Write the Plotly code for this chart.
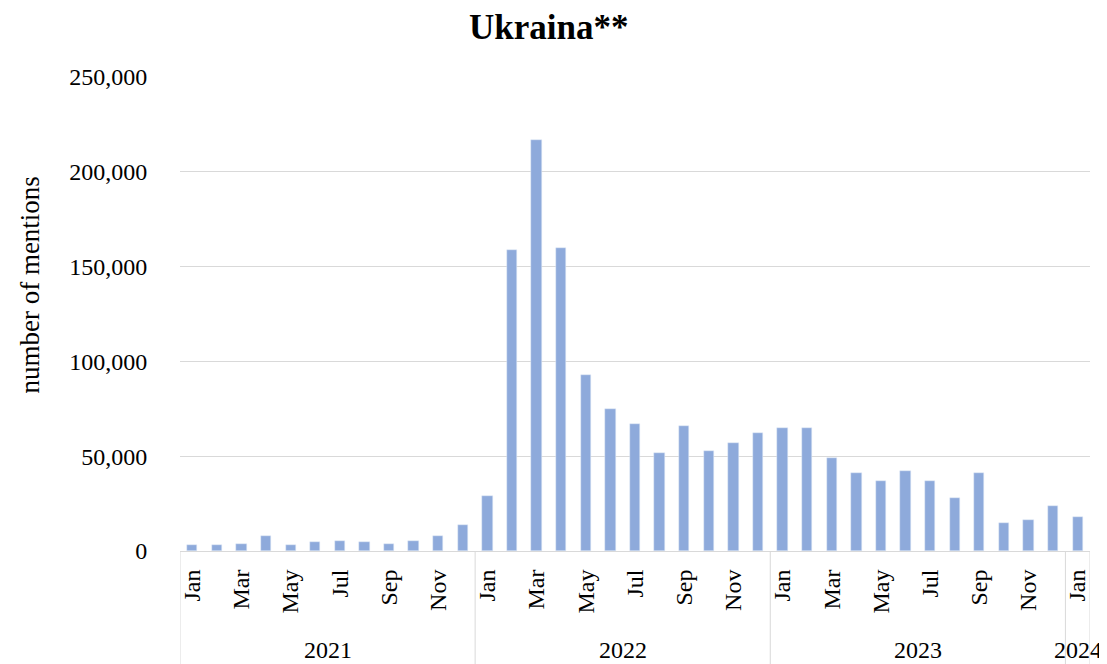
import plotly.graph_objects as go

years = ["2021"] * 12 + ["2022"] * 12 + ["2023"] * 12 + ["2024"]
months = ["Jan", "Feb", "Mar", "Apr", "May", "Jun", "Jul", "Aug", "Sep", "Oct", "Nov", "Dec"] * 3 + ["Jan"]
mentions = [
    3000, 3000, 3500, 8000, 3000, 5000, 5500, 4500, 3500, 5500, 8000, 13500,
    29000, 159000, 217000, 160000, 93000, 75000, 67000, 51500, 66000, 53000, 57000, 62000,
    65000, 65000, 49000, 41000, 37000, 42000, 37000, 28000, 41000, 15000, 16500, 24000,
    18000,
]
shown_months = ["Jan", "Mar", "May", "Jul", "Sep", "Nov"]

FONT = "Liberation Serif"
idx = list(range(len(mentions)))

fig = go.Figure(go.Bar(x=idx, y=mentions, marker_color="#8eaadb", width=0.42))

tickvals = [i for i in idx if months[i] in shown_months]
ticktext = [months[i] for i in tickvals]

# year groups
groups = []
for i, y in enumerate(years):
    if not groups or groups[-1][0] != y:
        groups.append([y, i, i])
    else:
        groups[-1][2] = i

shapes = []
annotations = []
bounds = sorted(set([g[1] - 0.5 for g in groups] + [g[2] + 0.5 for g in groups]))
for b in bounds:
    shapes.append(dict(type="line", xref="x", yref="paper", x0=b, x1=b, y0=0, y1=-0.25,
                       line=dict(color="#d9d9d9", width=1)))
for y, s, e in groups:
    annotations.append(dict(text=y, x=(s + e) / 2, xref="x", y=-0.209, yref="paper",
                            yanchor="middle", showarrow=False,
                            font=dict(family=FONT, size=24, color="#000")))
annotations.append(dict(text="number of mentions", textangle=-90, x=-0.1648, xref="paper",
                        xanchor="center", y=0.56, yref="paper", yanchor="middle",
                        showarrow=False, font=dict(family=FONT, size=27, color="#000")))

fig.update_layout(
    width=1099, height=656,
    margin=dict(l=172, r=17, t=69, b=113),
    paper_bgcolor="white", plot_bgcolor="white",
    title=dict(text="<b>Ukraina**</b>", x=0.492, xanchor="center", y=0.971, yanchor="middle",
               font=dict(family=FONT, size=35, color="#000")),
    showlegend=False,
    bargap=0,
    shapes=shapes,
    annotations=annotations,
    xaxis=dict(range=[-0.5, len(mentions) - 0.5], tickvals=tickvals, ticktext=ticktext,
               tickangle=-90, showgrid=False, showline=True, linecolor="#d9d9d9",
               ticks="outside", ticklen=8, tickcolor="rgba(0,0,0,0)",
               tickfont=dict(family=FONT, size=24, color="#000")),
    yaxis=dict(range=[0, 250000], dtick=50000, tickformat=",", showgrid=True,
               gridcolor="#d9d9d9", zeroline=False, ticks="outside", ticklen=27,
               tickcolor="rgba(0,0,0,0)",
               tickfont=dict(family=FONT, size=24, color="#000")),
)

fig.write_html("out.html")
